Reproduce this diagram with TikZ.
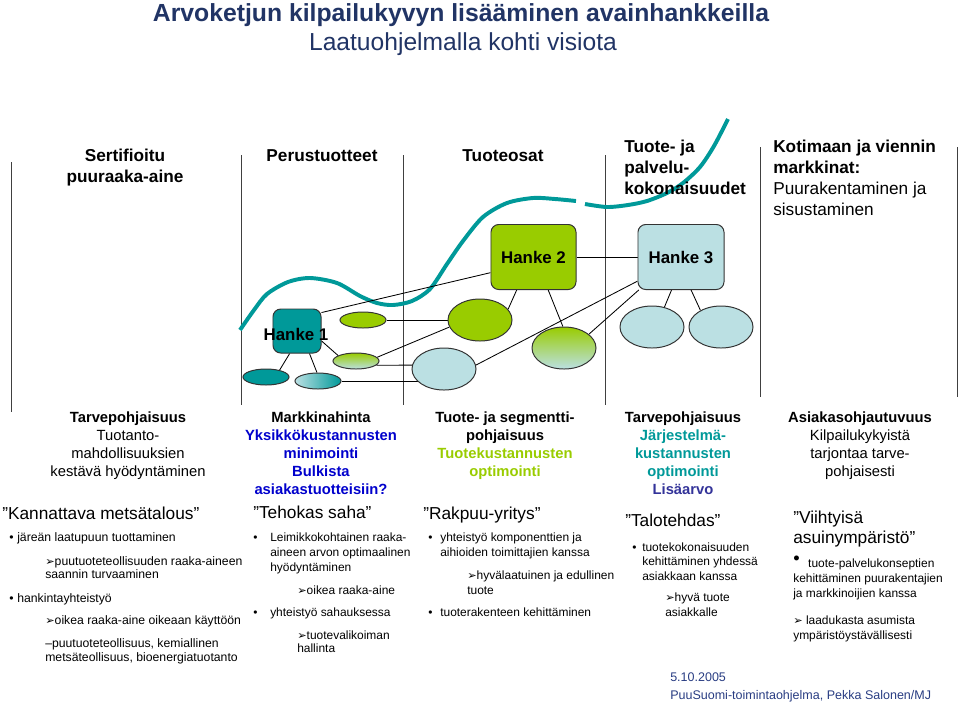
\documentclass[tikz,border=0pt]{standalone}
\usepackage{fontspec}
\setmainfont{Liberation Sans}
\newfontfamily\dejavu{DejaVu Sans}
\usetikzlibrary{shapes.geometric,backgrounds}

\definecolor{hteal}{RGB}{0,153,153}
\definecolor{hgreen}{RGB}{153,204,0}
\definecolor{hlight}{RGB}{187,224,227}
\definecolor{hnavy}{RGB}{33,52,101}
\definecolor{hblue}{RGB}{0,0,204}
\definecolor{hpurple}{RGB}{51,51,153}
\definecolor{hfoot}{RGB}{40,60,130}

\newcommand{\nuoli}{{\dejavu\fontsize{8}{8}\selectfont\char"27A2}}
\newcommand{\vari}[2]{\textcolor{#1}{\textbf{#2}}}
\newcommand{\luoti}[1]{\llap{\textbullet\hspace{#1}}}

\begin{document}
\begin{tikzpicture}[x=0.025cm,y=-0.025cm,
    hanke/.style={draw=black!80,rounded corners=5.5pt,inner sep=0pt,line width=0.7pt,
      font=\bfseries\fontsize{12}{12}\selectfont},
    soikio/.style={ellipse,draw=black!80,inner sep=0pt,line width=0.7pt},
    pieni/.style={soikio,minimum width=1.15cm,minimum height=0.4cm},
    iso/.style={soikio,minimum width=1.6cm,minimum height=1.05cm},
    yhteys/.style={line width=0.6pt},
    otsikko/.style={font=\bfseries\fontsize{12.25}{14.9}\selectfont,inner sep=0pt},
    ala/.style={font=\fontsize{10.5}{12.75}\selectfont,align=center,inner sep=0pt,anchor=base},
    lainaus/.style={font=\fontsize{12.3}{14.2}\selectfont,inner sep=0pt,anchor=base west,align=left},
    teksti/.style={font=\fontsize{8.7}{10.3}\selectfont,inner sep=0pt,anchor=base west,align=left}]

  \useasboundingbox (0,0) rectangle (960,706);

  % title
  \node[font=\bfseries\fontsize{17.6}{20}\selectfont,text=hnavy] (otsikko) at (461,15)
    {Arvoketjun kilpailukyvyn lisääminen avainhankkeilla};
  \node[font=\fontsize{17.5}{20}\selectfont,text=hnavy] (alaotsikko) at (463,44)
    {Laatuohjelmalla kohti visiota};

  % column heads of the value chain (base = last line)
  \node[otsikko,align=center,anchor=base] (sert) at (125,182) {Sertifioitu\\puuraaka-aine};
  \node[otsikko,anchor=base] (perus) at (322,161) {Perustuotteet};
  \node[otsikko,anchor=base] (osat) at (503,161) {Tuoteosat};
  \node[otsikko,align=left,anchor=base west] (kokon) at (624,194) {Tuote- ja\\palvelu-\\kokonaisuudet};
  \node[otsikko,align=left,anchor=base west] (markk) at (773,215)
    {Kotimaan ja viennin\\markkinat:\\\mdseries Puurakentaminen ja\\\mdseries sisustaminen};

  % projects
  \node[hanke,fill=hteal,minimum width=1.2cm,minimum height=1.1cm] (h1) at (297,331) {};
  \node[font=\bfseries\fontsize{12}{12}\selectfont] (h1txt) at (296,334) {Hanke 1};
  \node[hanke,fill=hgreen,minimum width=2.125cm,minimum height=1.625cm] (h2) at (533.5,257) {Hanke 2};
  \node[hanke,fill=hlight,minimum width=2.15cm,minimum height=1.625cm] (h3) at (681,257) {Hanke 3};

  \node[pieni,fill=hteal] (e1a) at (266,377) {};
  \node[pieni,left color=hlight,right color=hteal] (e1b) at (318,381) {};
  \node[pieni,fill=hgreen] (e1c) at (363,320) {};
  \node[pieni,top color=hgreen,bottom color=hlight] (e1d) at (356,361) {};
  \node[iso,fill=hgreen] (e2a) at (480,320) {};
  \node[iso,fill=hlight] (e2b) at (444,369) {};
  \node[iso,top color=hgreen,bottom color=hlight] (e2c) at (564,348) {};
  \node[iso,fill=hlight] (e3a) at (652,327) {};
  \node[iso,fill=hlight] (e3b) at (721,327) {};

  \begin{scope}[on background layer]
    % column rules
    \foreach \x/\a/\b in {11/162/412,241/155/405,403/155/405,605/155/405,760/147/397,957/147/397}
      \draw[black!75,line width=0.6pt] (\x,\a) -- (\x,\b);
    % the wave
    \draw[hteal,line width=2.8pt] plot[smooth] coordinates {(240,330) (254,310) (267,294) (288,282)
      (310,278) (337,283) (360,296) (377,303) (393,305) (412,301) (430,289) (447,264) (463,241)
      (483,217) (507,203) (533,198) (555,199) (576,201)};
    \draw[hteal,line width=2.8pt] plot[smooth] coordinates {(585,204) (607,207) (628,205) (647,201)
      (667,193) (683,183) (700,167) (714,146) (728,119)};
    % links
    \draw[yhteys] (h1.37) -- (h2.200);
    \draw[yhteys] (h1.252) -- (e1a.27);
    \draw[yhteys] (h1.299) -- (e1b.97);
    \draw[yhteys] (h1.338) -- (e1d.163);
    \draw[yhteys] (e1c.east) -- (e2a.west);
    \draw[yhteys] (e1d.10) -- (e2a.193);
    \draw[yhteys] (e1d.-12) -- (e2b.173);
    \draw[yhteys] (e1b.east) -- (e1b.east -| e2b);
    \draw[yhteys] (e2b.7) -- (h3.209);
    \draw[yhteys] (e2c.29) -- (h3.218);
    \draw[yhteys] (h2.243) -- (e2a.21);
    \draw[yhteys] (h2.294) -- (e2c.93);
    \draw[yhteys] (h2.east) -- (h3.west);
    \draw[yhteys] (h3.254) -- (e3a.58);
    \draw[yhteys] (h3.287) -- (e3b.141);
  \end{scope}

  % lower columns (base = last line)
  \node[ala] (kol1) at (128,476) {\textbf{Tarvepohjaisuus}\\Tuotanto-\\mahdollisuuksien\\kestävä hyödyntäminen};
  \node[ala] (kol2) at (321,494) {\textbf{Markkinahinta}\\\vari{hblue}{Yksikkökustannusten}\\
    \vari{hblue}{minimointi}\\\vari{hblue}{Bulkista}\\\vari{hblue}{asiakastuotteisiin?}};
  \node[ala] (kol3) at (505,476) {\textbf{Tuote- ja segmentti-}\\\textbf{pohjaisuus}\\
    \vari{hgreen}{Tuotekustannusten}\\\vari{hgreen}{optimointi}};
  \node[ala] (kol4) at (683,494) {\textbf{Tarvepohjaisuus}\\\vari{hteal}{Järjestelmä-}\\
    \vari{hteal}{kustannusten}\\\vari{hteal}{optimointi}\\\vari{hpurple}{Lisäarvo}};
  \node[ala] (kol5) at (860,476) {\textbf{Asiakasohjautuvuus}\\Kilpailukykyistä\\tarjontaa tarve-\\pohjaisesti};

  \node[lainaus] (q1) at (2,519) {”Kannattava metsätalous”};
  \node[lainaus] (q2) at (253,518) {”Tehokas saha”};
  \node[lainaus] (q3) at (423,519) {”Rakpuu-yritys”};
  \node[lainaus] (q4) at (625,526) {”Talotehdas”};
  \node[lainaus] (q5) at (793,543) {”Viihtyisä\\asuinympäristö”};

  % Kannattava metsätalous
  \node[teksti] (k1) at (17,541) {\luoti{2.6pt}järeän laatupuun tuottaminen};
  \node[teksti,font=\fontsize{8.7}{9.6}\selectfont] (k2) at (45,578.5) {\nuoli puutuoteteollisuuden raaka-aineen\\saannin turvaaminen};
  \node[teksti] (k3) at (17,602) {\luoti{2.6pt}hankintayhteistyö};
  \node[teksti] (k4) at (45,624) {\nuoli oikea raaka-aine oikeaan käyttöön};
  \node[teksti,font=\fontsize{8.7}{9.9}\selectfont] (k5) at (45,661) {–puutuoteteollisuus, kemiallinen\\metsäteollisuus, bioenergiatuotanto};

  % Tehokas saha
  \node[teksti,font=\fontsize{8.5}{10.6}\selectfont] (t1) at (270,571) {\luoti{9pt}Leimikkokohtainen raaka-\\aineen arvon optimaalinen\\hyödyntäminen};
  \node[teksti,font=\fontsize{8.5}{10.6}\selectfont] (t2) at (297,594) {\nuoli oikea raaka-aine};
  \node[teksti,font=\fontsize{8.5}{10.6}\selectfont] (t3) at (270,616) {\luoti{9pt}yhteistyö sahauksessa};
  \node[teksti,font=\fontsize{8.5}{9.6}\selectfont] (t4) at (297,652.5) {\nuoli tuotevalikoiman\\hallinta};

  % Rakpuu-yritys
  \node[teksti,font=\fontsize{8.5}{11}\selectfont] (r1) at (440,556.5) {\luoti{5.5pt}yhteistyö komponenttien ja\\aihioiden toimittajien kanssa};
  \node[teksti,font=\fontsize{8.5}{10.6}\selectfont] (r2) at (467,594) {\nuoli hyvälaatuinen ja edullinen\\tuote};
  \node[teksti,font=\fontsize{8.5}{10.6}\selectfont] (r3) at (440,616) {\luoti{5.5pt}tuoterakenteen kehittäminen};

  % Talotehdas
  \node[teksti,font=\fontsize{8.5}{10.3}\selectfont] (l1) at (642,580) {\luoti{4pt}tuotekokonaisuuden\\kehittäminen yhdessä\\asiakkaan kanssa};
  \node[teksti,font=\fontsize{8.5}{10.6}\selectfont] (l2) at (665,616) {\nuoli hyvä tuote\\asiakkalle};

  % Viihtyisä asuinympäristö
  \node[teksti,font=\fontsize{8.5}{10.6}\selectfont] (v1) at (793,597)
    {\rlap{\raisebox{1.7pt}{\fontsize{13}{13}\selectfont\textbullet}}\hspace{10.6pt}tuote-palvelukonseptien\\kehittäminen puurakentajien\\ja markkinoijien kanssa};
  \node[teksti,font=\fontsize{8.5}{10.6}\selectfont] (v2) at (793,639) {\nuoli{} laadukasta asumista\\ympäristöystävällisesti};

  % footer
  \node[teksti,text=hfoot,font=\fontsize{8.9}{12.75}\selectfont] (pvm) at (670,699)
    {5.10.2005\\PuuSuomi-toimintaohjelma, Pekka Salonen/MJ};

\end{tikzpicture}
\end{document}
